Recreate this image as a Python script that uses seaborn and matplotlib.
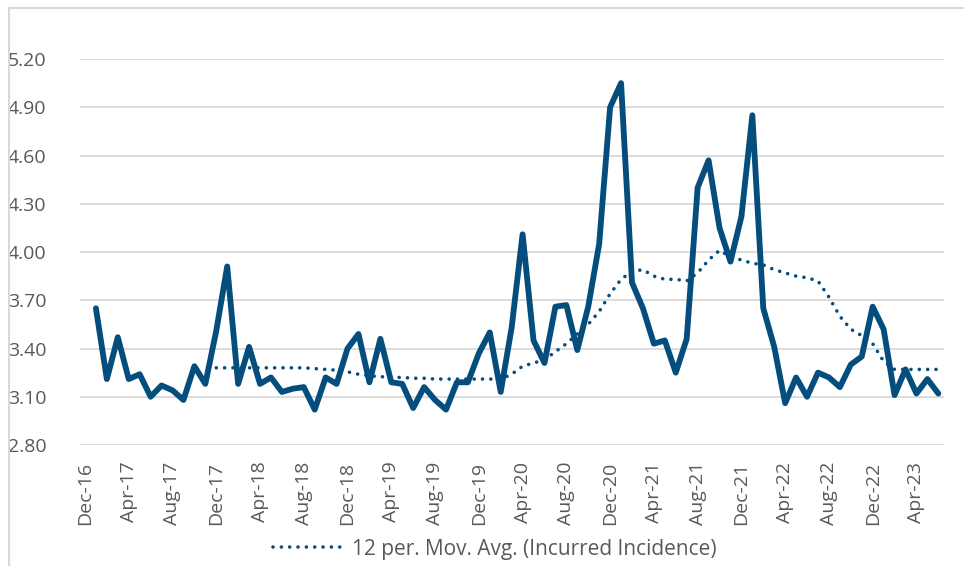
import numpy as np
import pandas as pd
import matplotlib.pyplot as plt
import seaborn as sns
from matplotlib.patches import Rectangle

# Category axis: Dec-16 .. Jun-23, the series starts one month in (Jan-17)
categories = pd.date_range("2016-12-01", "2023-06-01", freq="MS").strftime("%b-%y").tolist()

incidence = [
    3.65, 3.21, 3.47, 3.21, 3.24, 3.10, 3.17, 3.14, 3.08, 3.29, 3.18, 3.51,
    3.91, 3.18, 3.41, 3.18, 3.22, 3.13, 3.15, 3.16, 3.02, 3.22, 3.18, 3.40,
    3.49, 3.19, 3.46, 3.19, 3.18, 3.03, 3.16, 3.08, 3.02, 3.19, 3.19, 3.37,
    3.50, 3.13, 3.53, 4.11, 3.45, 3.31, 3.66, 3.67, 3.39, 3.66, 4.05, 4.90,
    5.05, 3.81, 3.65, 3.43, 3.45, 3.25, 3.46, 4.40, 4.57, 4.15, 3.94, 4.22,
    4.85, 3.65, 3.41, 3.06, 3.22, 3.10, 3.25, 3.22, 3.16, 3.30, 3.35, 3.66,
    3.52, 3.11, 3.27, 3.12, 3.21, 3.12,
]

# 12 per. moving average (starts at the 12th point)
mov_avg = [
    3.28, 3.28, 3.28, 3.28, 3.28, 3.28, 3.28, 3.28, 3.28, 3.275, 3.27, 3.265,
    3.255, 3.24, 3.23, 3.225, 3.22, 3.22, 3.215, 3.215, 3.21, 3.21, 3.21, 3.21,
    3.21, 3.21, 3.21, 3.24, 3.29, 3.31, 3.33, 3.38, 3.43, 3.49, 3.55, 3.63,
    3.74, 3.83, 3.88, 3.89, 3.85, 3.83, 3.83, 3.82, 3.87, 3.95, 4.01, 3.97,
    3.95, 3.93, 3.92, 3.89, 3.87, 3.85, 3.84, 3.82, 3.72, 3.60, 3.52, 3.48,
    3.43, 3.32, 3.27, 3.27, 3.27, 3.27, 3.27,
]

y_ticks = [2.80, 3.10, 3.40, 3.70, 4.00, 4.30, 4.60, 4.90, 5.20]

line_color = "#044D7C"
text_color = "#595959"

df = pd.DataFrame({"pos": np.arange(1, len(incidence) + 1), "value": incidence})
df_ma = pd.DataFrame({
    "pos": np.arange(len(incidence) - len(mov_avg) + 1, len(incidence) + 1),
    "value": mov_avg,
})

sns.set_style("white")
plt.rcParams["font.family"] = ["Open Sans", "DejaVu Sans"]

fig = plt.figure(figsize=(9.64, 5.66), dpi=100)
ax = fig.add_axes([79.5 / 964, 121 / 566, 864.3 / 964, 386 / 566])

sns.lineplot(data=df, x="pos", y="value", ax=ax, color=line_color,
             linewidth=4.2, solid_joinstyle="round", solid_capstyle="round")
sns.lineplot(data=df_ma, x="pos", y="value", ax=ax, color=line_color,
             linewidth=2.6, linestyle=(0, (0.01, 2.3)), dash_capstyle="round",
             label="12 per. Mov. Avg. (Incurred Incidence)")

ax.set_xlim(-0.5, len(categories) - 0.5)
ax.set_ylim(2.8, 5.2)
ax.set_yticks(y_ticks)
ax.set_yticklabels([f"{v:.2f}" for v in y_ticks])
tick_pos = list(range(0, len(categories), 4))
ax.set_xticks(tick_pos)
ax.set_xticklabels([categories[i] for i in tick_pos], rotation=90)

ax.grid(axis="y", color="#D9D9D9", linewidth=1.3)
ax.set_axisbelow(True)
for s in ax.spines.values():
    s.set_visible(False)
ax.tick_params(axis="y", length=0, pad=24, labelsize=14, labelcolor=text_color)
ax.tick_params(axis="x", length=0, pad=12, labelsize=14, labelcolor=text_color)
ax.set_xlabel("")
ax.set_ylabel("")

leg = ax.legend(loc="center", bbox_to_anchor=(495 / 964, 1 - 549 / 566),
                bbox_transform=fig.transFigure, frameon=False, fontsize=15,
                handlelength=3.4, handletextpad=0.4)
for t in leg.get_texts():
    t.set_color(text_color)

# chart area border (only top and left edges fall inside the crop)
fig.patches.append(Rectangle((9 / 964, -0.1), 1.2, 1.1 - 8 / 566, transform=fig.transFigure,
                             fill=False, edgecolor="#D9D9D9", linewidth=1.5))

fig.savefig("out.png", dpi=100)
